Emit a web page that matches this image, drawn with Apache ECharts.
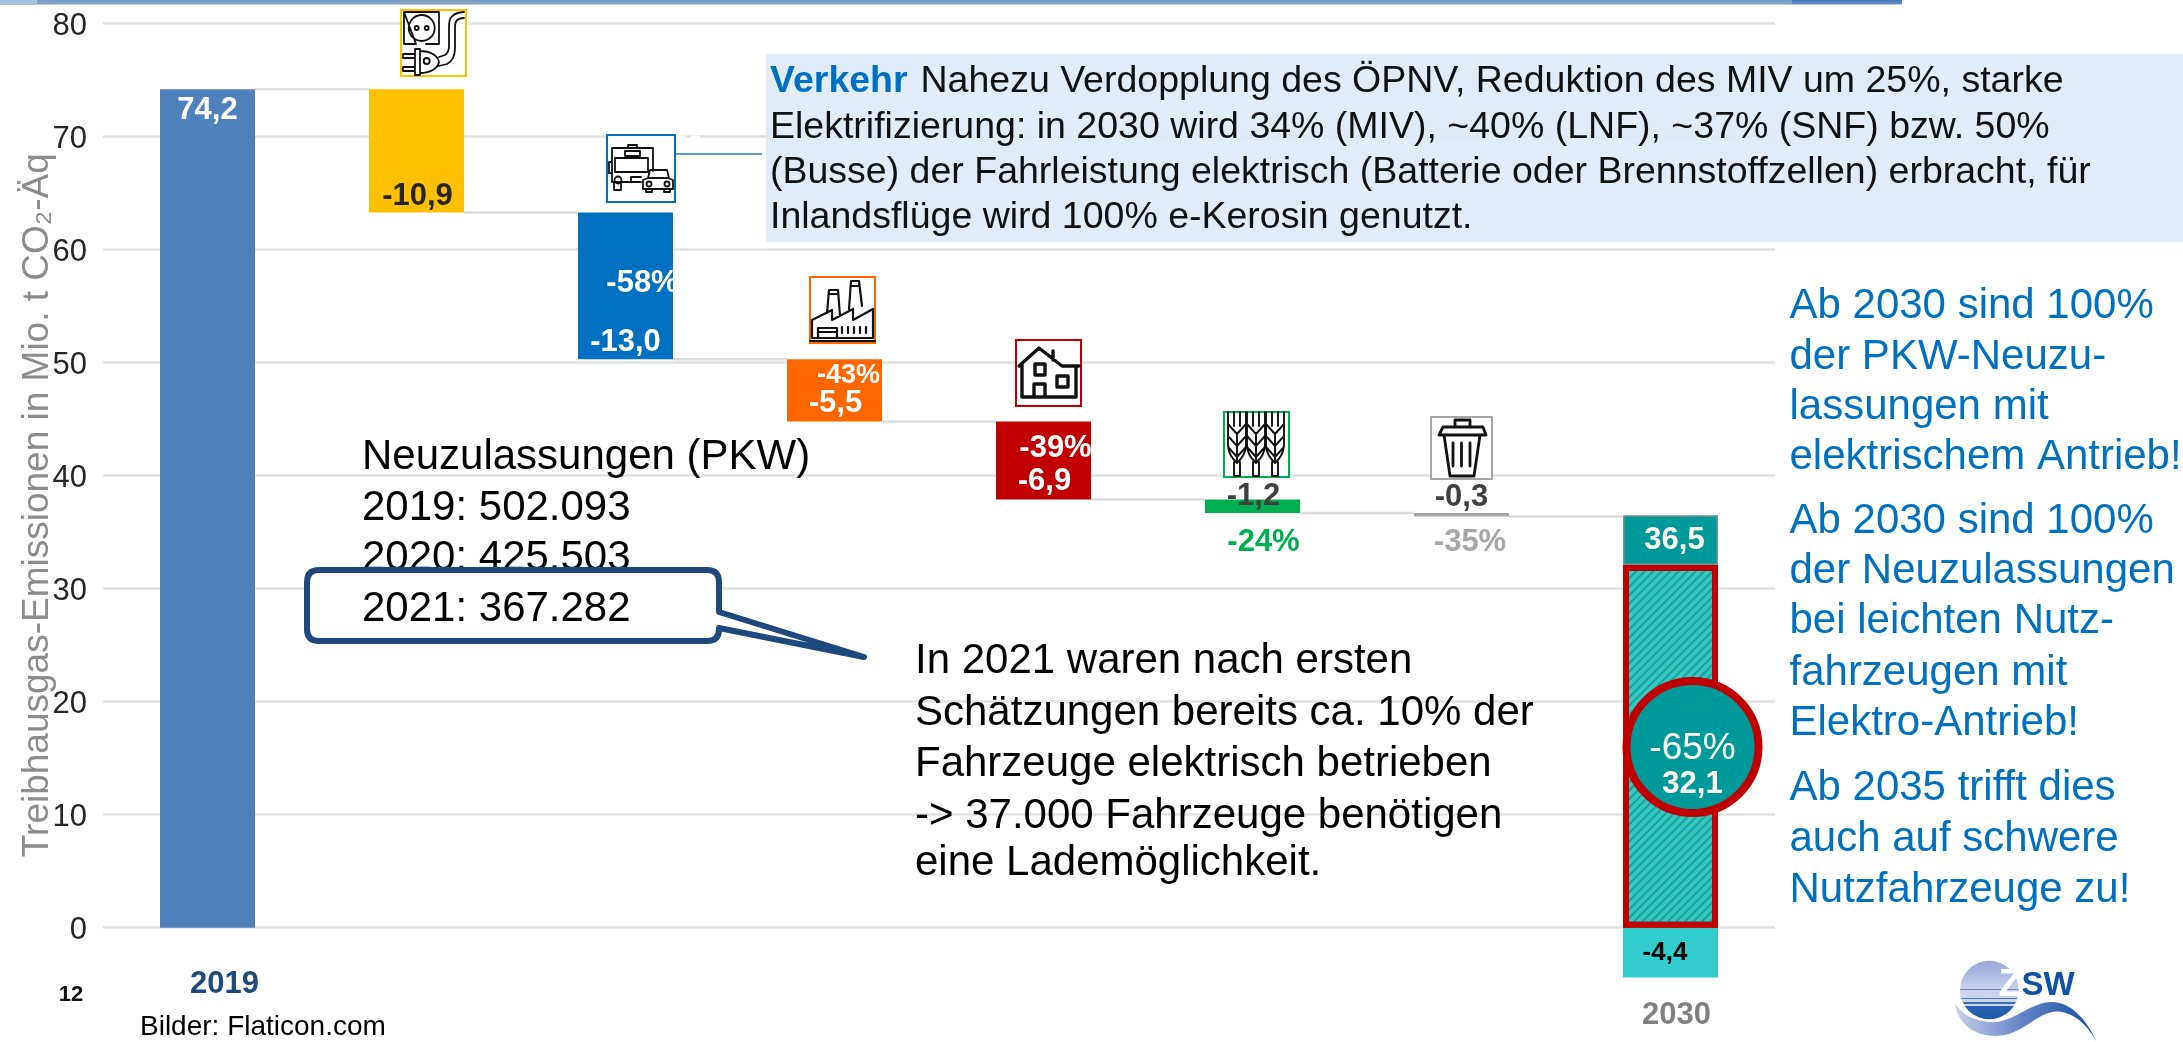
<!DOCTYPE html>
<html>
<head>
<meta charset="utf-8">
<style>html,body{margin:0;padding:0;background:#fff}#chart{width:2183px;height:1042px}</style>
<script src="https://cdn.jsdelivr.net/npm/echarts@6/dist/echarts.min.js"></script>
</head>
<body>
<div id="chart"></div>
<script>
// ---------- data ----------
const categories = ['2019','Strom','Verkehr','Industrie','Gebäude','Landwirtschaft','Abfall','2030'];
const baseValues = [0, 63.3, 50.3, 44.8, 37.9, 36.7, 36.4, null];
const deltaValues = [74.2, 10.9, 13.0, 5.5, 6.9, 1.2, 0.3, 4.4];
const remainingValues = [null, null, null, null, null, null, null, 32.1];
const compensatedValues = [null, null, null, null, null, null, null, -4.4];
const deltaLabels = ['74,2','-10,9','-13,0','-5,5','-6,9','-1,2','-0,3','36,5'];
const connectorLevels = [74.2, 63.3, 50.3, 44.8, 37.9, 36.7, 36.4];
const percentTexts = ['-58%','-43%','-39%','-24%','-35%'];
const percentCategories = [2, 3, 4, 5, 6];
const percentLevels = [57, 48.9, 42.45, 34.1, 34.1];
const yAxisTitle = 'Treibhausgas-Emissionen in Mio. t CO₂-Äq';
const verkehrHead = 'Verkehr';
const verkehrLines = [
  'Nahezu Verdopplung des ÖPNV, Reduktion des MIV um 25%, starke',
  'Elektrifizierung: in 2030 wird 34% (MIV), ~40% (LNF), ~37% (SNF) bzw. 50%',
  '(Busse) der Fahrleistung elektrisch (Batterie oder Brennstoffzellen) erbracht, für',
  'Inlandsflüge wird 100% e-Kerosin genutzt.'
];
const registrationLines = ['Neuzulassungen (PKW)','2019: 502.093','2020: 425.503'];
const registrationCallout = '2021: 367.282';
const estimateLines = [
  'In 2021 waren nach ersten',
  'Schätzungen bereits ca. 10% der',
  'Fahrzeuge elektrisch betrieben',
  '-> 37.000 Fahrzeuge benötigen',
  'eine Lademöglichkeit.'
];
const noteLines = [
  'Ab 2030 sind 100%','der PKW-Neuzu-','lassungen mit','elektrischem Antrieb!',
  'Ab 2030 sind 100%','der Neuzulassungen','bei leichten Nutz-','fahrzeugen mit','Elektro-Antrieb!',
  'Ab 2035 trifft dies','auch auf schwere','Nutzfahrzeuge zu!'
];

// ---------- styles ----------
const FONT = '"Liberation Sans", Arial, sans-serif';
const barColors = ['#4f81bd','#ffc000','#0070c0','#ff6600','#c00000','#00b050','#a6a6a6','#009999'];
const BAR_WIDTH = 95;
const deltaLabelStyles = [
  {color:'#fff', offset:[0,-398]},
  {color:'#262626', offset:[1,46]},
  {color:'#fff', offset:[0,57]},
  {color:'#fff', offset:[1,13.5]},
  {color:'#fff', offset:[1,21.5]},
  {color:'#404040', offset:[1,-10]},
  {color:'#404040', offset:[0,-17]},
  {color:'#fff', offset:[4,0]}
];
const percentStyles = [
  {color:'#fff', offset:[17,0], fontSize:31},
  {color:'#fff', offset:[14,0], fontSize:27},
  {color:'#fff', offset:[12,0], fontSize:31},
  {color:'#00b050', offset:[11,0], fontSize:31},
  {color:'#a6a6a6', offset:[8.5,0], fontSize:31}
];

let shapeCounter = 0;
function pathEl(d, opt) {
  const name = 'zswPath' + (shapeCounter++);
  echarts.graphic.registerShape(name, echarts.graphic.extendPath(d, {}));
  return Object.assign({type:name, shape:{}}, opt);
}
function txt(text, x, y, font, fill, align) {
  return {type:'text', x:x, y:y+3, silent:true, style:{text:text, font:font, fill:fill, textAlign:align||'left', textVerticalAlign:'middle'}};
}
function box(x0,y0,x1,y1,stroke){
  return {type:'rect', shape:{x:x0,y:y0,width:x1-x0,height:y1-y0}, style:{fill:'#fff',stroke:stroke,lineWidth:2}};
}
function ico(x,y,d,lw,fill){
  return pathEl(d, {x:x, y:y, style:{fill:fill||'none',stroke:'#111',lineWidth:lw||1.8,lineJoin:'round',lineCap:'round'}});
}
function circ(cx,cy,r){ return 'M'+(cx-r)+' '+cy+'a'+r+' '+r+' 0 1 0 '+(2*r)+' 0a'+r+' '+r+' 0 1 0 '+(-2*r)+' 0Z'; }
function wheat(c){
  return 'M'+(c-3)+' 50V64H'+(c+3)+'V50'+
    'M'+(c-9)+' 0V32C'+(c-9)+' 42 '+(c-4)+' 47 '+c+' 51C'+(c+4)+' 47 '+(c+9)+' 42 '+(c+9)+' 32V0'+
    'M'+(c-3)+' 0V14M'+(c+3)+' 0V14'+
    'M'+(c-9)+' 12L'+c+' 22L'+(c+9)+' 12M'+(c-9)+' 24L'+c+' 34L'+(c+9)+' 24M'+(c-8)+' 36L'+c+' 45L'+(c+8)+' 36M'+c+' 22V50';
}

const icons = [
  box(401,10,466,76,'#ffc000'),
  ico(401,10,'M3 2H38V34H25M15 34H3V2Z'+circ(20.7,18,13)+circ(15.7,18,2)+circ(25.7,18,2)+
    'M2 44H14V48H2ZM2 57H14V61H2ZM14 39H19V65H14ZM19 41C30 41 37 46 38 52C37 58 30 63 19 63'+circ(25.7,51,3)+
    'M38 47L44 45C47 43 48 40 48 36V16C48 9 50 3 63 2M38 56L46 54C52 51 54 46 54 38V16C54 11 56 8 63 8'),
  box(607,135,675,202,'#0070c0'),
  ico(607,135,'M5 47V13H46V36M5 47H34M8 23H41V37H8ZM18 16H33V21H18ZM21 10H30V13H21ZM2 27H5V38H2Z'+circ(11,45,3.5)+
    'M7 47V55H14V47M24 46V42H34M36 45L41 43H61L66 45V54H36ZM41 43L43 35H60L62 43M39 54V57H45V54M57 54V57H63V54'+circ(42,49,2.5)+circ(60,49,2.5)),
  box(810,277,875,343,'#ff6600'),
  ico(810,277,'M2 61V43L22 33V43L43 32V43L63 32V61ZM0 64H65'+
    'M17 36L19 13H28L30 39M19 17H28M39 32L41 4H49L52 29M41 9H49'+
    'M8 61V51H27V61M8 55H27'+
    'M32 50V56M38 50V56M44 50V56M50 50V56M56 50V56',2.2),
  box(1016,340,1081,406,'#c00000'),
  ico(1016,340,'M3 26L23 8L46 26H63M37 11V20M6 24V57H60V27M19 24H29V35H19ZM18 57V44H29V57M41 36H52V47H41Z',3.4),
  box(1224,412,1289,477,'#00b050'),
  ico(1224,412,wheat(13)+wheat(32)+wheat(51),1.9),
  box(1431,417,1492,479,'#a6a6a6'),
  ico(1431,417,'M24 10V3H39V10M12 10H52L55 18H8ZM13 18L19 59H43L49 18M22 26V49M30.500 26V49M39 26V49',2.8)
];

const logoStripes = new echarts.graphic.LinearGradient(0,0,0,1,[
  {offset:0,color:'#9aa8d8'},{offset:.3,color:'#b5bfe4'},{offset:.49,color:'#ccd3ee'},
  {offset:.49,color:'#6a7cb0'},{offset:.505,color:'#6a7cb0'},{offset:.505,color:'#ccd3ee'},
  {offset:.63,color:'#ccd3ee'},{offset:.63,color:'#4a78b8'},{offset:.66,color:'#4a78b8'},{offset:.66,color:'#ccd3ee'},
  {offset:.7,color:'#ccd3ee'},{offset:.7,color:'#3a6cb4'},{offset:.74,color:'#3a6cb4'},{offset:.74,color:'#ccd3ee'},
  {offset:.77,color:'#ccd3ee'},{offset:.77,color:'#2a62b0'},{offset:1,color:'#1c5aa8'}
]);
const logo = [
  pathEl('M1955 1003C1958 1025 1975 1036 1996 1036C2025 1036 2038 1008 2062 1012C2080 1016 2090 1030 2096 1041C2088 1022 2072 1002 2052 1002C2030 1002 2012 1024 1990 1022C1973 1021 1960 1013 1955 1003Z',
    {style:{fill:new echarts.graphic.LinearGradient(0,0,1,0,[{offset:0,color:'#c8d0ec'},{offset:.5,color:'#5f80c4'},{offset:1,color:'#124f9e'}])}}),
  {type:'circle', shape:{cx:1989.300,cy:990,r:29.300}, style:{fill:logoStripes}},
  txt('Z', 2010, 983, 'bold 38px '+FONT, '#fff', 'center'),
  txt('SW', 2048, 983, 'bold 33px '+FONT, '#0d52a4', 'center')
];

const notes = noteLines.map(function(l,i){
  const ys = [303,354,404,454,518,568,618,670,720,785,836.500,887];
  return txt(l, 1789.500, ys[i], '42px '+FONT, '#0070c0');
});
const verkehrY = [79,125,170,215];
const regY = [454,505,555.500];
const estY = [658,710,761,813,860];

const annotations = [].concat(
  [
    {type:'rect', shape:{x:0,y:0,width:1902,height:5}, style:{fill:new echarts.graphic.LinearGradient(0,0,0,1,[{offset:0,color:'#7d9ac2'},{offset:.7,color:'#86a3c9'},{offset:1,color:'#d6e3f0'}])}},
    {type:'rect', shape:{x:1792,y:0,width:110,height:4.500}, style:{fill:new echarts.graphic.LinearGradient(0,0,0,1,[{offset:0,color:'#4a7ab4'},{offset:.8,color:'#5a8ac2'},{offset:1,color:'#b8d0e8'}])}},
    {type:'rect', shape:{x:0,y:0,width:37,height:5}, style:{fill:'#a9c0dc'}},
    {type:'rect', shape:{x:766,y:54,width:1417,height:188}, style:{fill:'rgba(222,234,246,0.9)'}},
    {type:'line', shape:{x1:676,y1:154,x2:762,y2:154}, style:{stroke:'#5b9bd5',lineWidth:2}},
    {type:'line', shape:{x1:640,y1:137,x2:700,y2:137}, style:{stroke:'#fff',lineWidth:3,lineDash:[12,5]}},
    txt(verkehrHead, 770, verkehrY[0], 'bold 37.500px '+FONT, '#0070c0'),
    txt(verkehrLines[0], 920.500, verkehrY[0], '37.500px '+FONT, '#111'),
    txt(verkehrLines[1], 770, verkehrY[1], '37.500px '+FONT, '#111'),
    txt(verkehrLines[2], 770, verkehrY[2], '37.500px '+FONT, '#111'),
    txt(verkehrLines[3], 770, verkehrY[3], '37.500px '+FONT, '#111')
  ],
  registrationLines.map(function(l,i){ return txt(l, 362, regY[i], '42px '+FONT, '#000'); }),
  [
    pathEl('M319 570H707Q719 570 719 582V612L864 657L719 628V629Q719 641 707 641H319Q307 641 307 629V582Q307 570 319 570Z',
      {style:{fill:'#fff',stroke:'#1f497d',lineWidth:6,lineJoin:'round'}}),
    txt(registrationCallout, 362, 606, '42px '+FONT, '#000')
  ],
  estimateLines.map(function(l,i){ return txt(l, 915, estY[i], '42px '+FONT, '#000'); }),
  notes,
  icons,
  logo,
  [
    txt('12', 71, 992, 'bold 22px '+FONT, '#111', 'center'),
    txt('Bilder: Flaticon.com', 140, 1024, '28px '+FONT, '#000')
  ]
).map(function(el,i){ el.z = 50; el.z2 = i; return el; });

const chart = echarts.init(document.getElementById('chart'), null, {renderer:'canvas'});
chart.setOption({
  animation:false,
  backgroundColor:'#fff',
  textStyle:{fontFamily:FONT},
  grid:{left:103,right:408,top:23.700,bottom:1.300,containLabel:false,outerBoundsMode:'none'},
  xAxis:{
    type:'category', data:categories,
    axisTick:{show:false},
    axisLine:{show:false,onZero:false},
    axisLabel:{
      interval:0, margin:-72, hideOverlap:false, showMinLabel:true, showMaxLabel:true,
      formatter:function(v){ return v==='2019'?'{a|2019}':(v==='2030'?'{b|2030}':''); },
      rich:{
        a:{fontFamily:FONT,fontSize:31,fontWeight:'bold',color:'#1f497d',padding:[0,0,0,34]},
        b:{fontFamily:FONT,fontSize:31,fontWeight:'bold',color:'#808080',padding:[31,0,0,12]}
      }
    }
  },
  yAxis:{
    type:'value', min:-10, max:80, interval:10,
    name:yAxisTitle, nameLocation:'middle', nameGap:47, nameRotate:90, nameMoveOverlap:false,
    nameTextStyle:{fontFamily:FONT,fontSize:37,color:'#8c8c8c',padding:[0,0,0,54]},
    axisLine:{show:false}, axisTick:{show:false},
    axisLabel:{fontFamily:FONT,fontSize:31,color:'#262626',margin:16,verticalAlign:'top',lineHeight:6,formatter:function(v){return v<0?'':String(v);}},
    splitLine:{show:true,showMinLine:false,lineStyle:{color:'#e2e2e2',width:2.500}}
  },
  series:[
    {type:'custom', name:'Verbinder', z:1, silent:true, clip:false,
      data:connectorLevels.map(function(v,i){return [i,v];}),
      encode:{x:0,y:1},
      renderItem:function(params,api){
        const i=api.value(0), v=api.value(1);
        const a=api.coord([i,v]), b=api.coord([i+1,v]);
        return {type:'line',shape:{x1:a[0]+BAR_WIDTH/2,y1:a[1],x2:b[0]-BAR_WIDTH/2,y2:b[1]},style:{stroke:'#dcdcdc',lineWidth:2.500}};
      }
    },
    {type:'bar', name:'Basis', stack:'w', barWidth:BAR_WIDTH, silent:true, z:2,
      itemStyle:{color:'transparent'}, data:baseValues},
    {type:'bar', name:'Verbleibend', stack:'w', barWidth:BAR_WIDTH, silent:true, z:4,
      itemStyle:{color:'#33c9c3',borderColor:'#c00000',borderWidth:6,
        decal:{symbol:'rect',color:'#1f9e9b',dashArrayX:[1,0],dashArrayY:[2,4],rotation:-Math.PI/4,symbolSize:1}},
      data:remainingValues},
    {type:'bar', name:'Sektoren', stack:'w', barWidth:BAR_WIDTH, silent:true, z:3,
      data:deltaValues.map(function(v,i){
        return {value:v,
          itemStyle:{color:barColors[i],borderColor:i===7?'#7f8f8f':'transparent',borderWidth:i===7?1.500:0},
          label:{show:true,position:'inside',formatter:deltaLabels[i],color:deltaLabelStyles[i].color,offset:deltaLabelStyles[i].offset,
            fontFamily:FONT,fontSize:31,fontWeight:'bold'}};
      })},
    {type:'bar', name:'Kompensation', stack:'w', barWidth:BAR_WIDTH, silent:true, z:3,
      itemStyle:{color:'#33cccc'},
      label:{show:true,position:'inside',formatter:'-4,4',color:'#000',offset:[-5.500,0],fontFamily:FONT,fontSize:26,fontWeight:'bold'},
      data:compensatedValues},
    {type:'scatter', name:'Prozent', z:6, silent:true, symbolSize:0, itemStyle:{opacity:1},
      data:percentLevels.map(function(v,i){
        return {value:[percentCategories[i],v],
          label:{show:true,position:'inside',formatter:percentTexts[i],color:percentStyles[i].color,offset:percentStyles[i].offset,
            fontFamily:FONT,fontSize:percentStyles[i].fontSize,fontWeight:'bold'}};
      })},
    {type:'scatter', name:'Ziel', z:5, silent:true, symbol:'circle', symbolSize:132, symbolOffset:[22,0],
      itemStyle:{color:'#009999',borderColor:'#c00000',borderWidth:8,opacity:1},
      label:{show:true,position:'inside',offset:[0,20],
        formatter:'{p|-65%}\n{v|32,1}',
        rich:{p:{fontFamily:FONT,fontSize:37,color:'#fff',lineHeight:36,align:'center'},
              v:{fontFamily:FONT,fontSize:31,fontWeight:'bold',color:'#fff',lineHeight:36,align:'center'}}},
      data:[[7,16]]}
  ],
  graphic:{elements:annotations}
});
</script>
</body>
</html>
